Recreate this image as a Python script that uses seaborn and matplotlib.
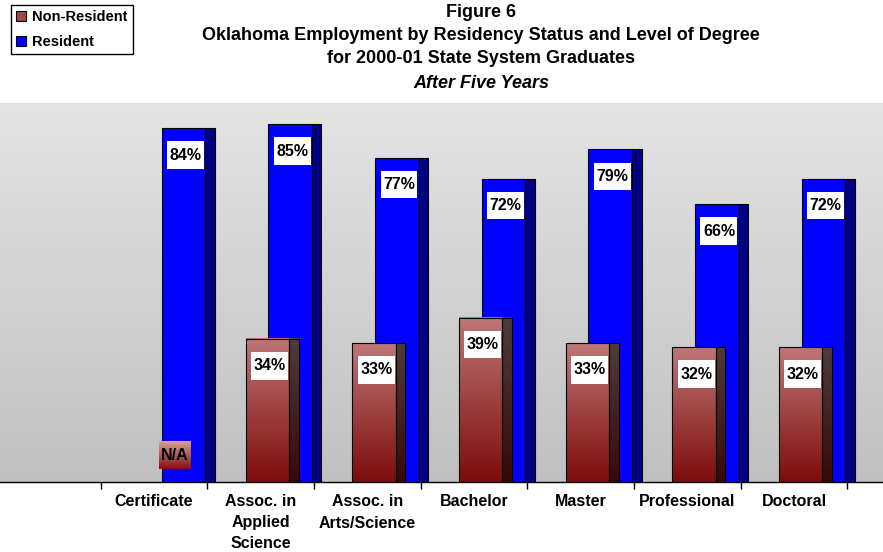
import numpy as np
import pandas as pd
import matplotlib
matplotlib.use('Agg')
import matplotlib.pyplot as plt
from matplotlib.patches import Rectangle, Patch
from matplotlib.colors import LinearSegmentedColormap
import seaborn as sns

# Data
degrees = ['Certificate', 'Assoc. in\nApplied\nScience', 'Assoc. in\nArts/Science',
           'Bachelor', 'Master', 'Professional', 'Doctoral']
non_resident = [np.nan, 34, 33, 39, 33, 32, 32]
resident = [84, 85, 77, 72, 79, 66, 72]
statuses = ['Non-Resident', 'Resident']

df = pd.DataFrame({
    'degree': degrees * 2,
    'status': ['Non-Resident'] * len(degrees) + ['Resident'] * len(degrees),
    'pct': non_resident + resident,
}).dropna()

sns.set_theme(style='white')
plt.rcParams['font.family'] = ['Liberation Sans', 'DejaVu Sans']
plt.rcParams['text.color'] = 'black'
plt.rcParams['xtick.color'] = 'black'
plt.rcParams['xtick.labelcolor'] = 'black'

W, H = 883, 552
fig = plt.figure(figsize=(W / 100, H / 100), dpi=100)
ax = fig.add_axes([0, 70 / H, 1, 379 / H])

sns.barplot(data=df, x='degree', y='pct', hue='status', order=degrees,
            hue_order=statuses, palette=['#a04848', '#0000ff'], width=0.8,
            saturation=1, errorbar=None, legend=False, edgecolor='black',
            linewidth=0.8, ax=ax)

XLIM = (-1.444, 6.834)
YLIM = (0, 90)

# background gradient (light top -> darker bottom)
bg = LinearSegmentedColormap.from_list('bg', ['#c0c0c0', '#e4e4e4'])
ax.imshow(np.linspace(0, 1, 256).reshape(-1, 1), cmap=bg, origin='lower',
          extent=[0, 1, 0, 1], transform=ax.transAxes, aspect='auto', zorder=0)

red_front = LinearSegmentedColormap.from_list('rf', ['#7d0c0c', '#be7676'])
red_side = LinearSegmentedColormap.from_list('rs', ['#3a0808', '#4e3c3c'])
na_cmap = LinearSegmentedColormap.from_list('na', ['#801010', '#d8a0a0'])
grad = np.linspace(0, 1, 128).reshape(-1, 1)

# geometry of the pseudo-3D bars (offsets in category units)
FRONT = {'Non-Resident': (-0.14, 0.405), 'Resident': (0.072, 0.408)}
SIDE_W = 0.09
LABEL_DROP = 6.4
label_box = dict(boxstyle='square,pad=0.15', mutation_aspect=2.6,
                 facecolor='white', edgecolor='none')

for status, cont in zip(statuses, ax.containers):
    for p in cont.patches:
        h = p.get_height()
        if not np.isfinite(h):
            continue
        i = int(round(p.get_x() + p.get_width() / 2))
        off, w = FRONT[status]
        x0 = i + off
        p.set_x(x0)
        p.set_width(w)
        if status == 'Resident':
            p.set_zorder(2)
            ax.add_patch(Rectangle((x0 + w, 0), SIDE_W, h, facecolor='#000080',
                                   edgecolor='black', linewidth=0.8, zorder=2))
        else:
            p.set_facecolor('none')
            p.set_zorder(3.2)
            ax.imshow(grad, cmap=red_front, origin='lower', aspect='auto',
                      extent=[x0, x0 + w, 0, h], zorder=3)
            ax.imshow(grad, cmap=red_side, origin='lower', aspect='auto',
                      extent=[x0 + w, x0 + w + SIDE_W, 0, h], zorder=3)
            ax.add_patch(Rectangle((x0 + w, 0), SIDE_W, h, facecolor='none',
                                   edgecolor='black', linewidth=0.8, zorder=3.2))
        ax.text(x0 + w / 2 + 0.02, h - LABEL_DROP, f'{int(h)}%', ha='center',
                va='center', fontsize=11.5, fontweight='bold', color='black', zorder=6,
                bbox=label_box)

# N/A marker for the missing Certificate value
for i, v in enumerate(non_resident):
    if np.isnan(v):
        ax.imshow(grad, cmap=na_cmap, origin='lower', aspect='auto',
                  extent=[i + 0.047, i + 0.338, 3.1, 9.7], zorder=5)
        ax.text(i + 0.19, 6.3, 'N/A', ha='center', va='center', fontsize=11.5,
                fontweight='bold', color='black', zorder=6)

ax.set_xlim(*XLIM)
ax.set_ylim(*YLIM)

for s in ['top', 'left', 'right']:
    ax.spines[s].set_visible(False)
ax.spines['bottom'].set_color('black')
ax.spines['bottom'].set_linewidth(1)
ax.spines['bottom'].set_zorder(7)

ax.set_yticks([])
ax.set_xticks(np.arange(len(degrees) + 1) - 0.5)
ax.set_xticklabels([])
ax.set_xticks(np.arange(len(degrees)), minor=True)
ax.set_xticklabels(degrees, minor=True, fontsize=11.5, fontweight='bold',
                   linespacing=1.5, color='black')
ax.tick_params(axis='x', which='major', direction='out', length=5, width=1,
               color='black', bottom=True)
ax.tick_params(axis='x', which='minor', length=0, pad=9, bottom=True)
for t in ax.get_xticklabels(minor=True):
    t.set_verticalalignment('top')
ax.set_xlabel('')
ax.set_ylabel('')

# title lines
titles = [('Figure 6', 'normal', 16.7),
          ('Oklahoma Employment by Residency Status and Level of Degree', 'normal', 39.5),
          ('for 2000-01 State System Graduates', 'normal', 63.3),
          ('After Five Years', 'italic', 88.3)]
for txt, style, base in titles:
    fig.text(481 / W, 1 - base / H, txt, ha='center', va='baseline', fontsize=13,
             fontweight='bold', fontstyle=style, color='black')

handles = [Patch(facecolor='#a04848', edgecolor='black', linewidth=0.8),
           Patch(facecolor='#0000ff', edgecolor='black', linewidth=0.8)]
leg = fig.legend(handles, statuses, loc='upper left', bbox_to_anchor=(11 / W, 1 - 5 / H),
                 frameon=True, fancybox=False, framealpha=1, edgecolor='black',
                 prop={'weight': 'bold', 'size': 10.5}, handlelength=0.7, handleheight=0.7,
                 handletextpad=0.4, borderpad=0.35, labelspacing=0.75, borderaxespad=0)
leg.get_frame().set_linewidth(1)
for t in leg.get_texts():
    t.set_color('black')

fig.savefig('out.png', dpi=100)
